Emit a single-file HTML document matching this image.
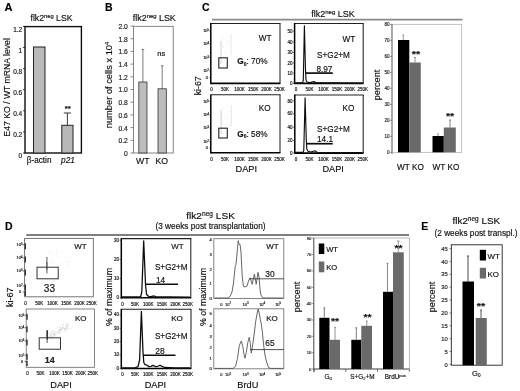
<!DOCTYPE html>
<html><head><meta charset="utf-8"><title>Figure</title>
<style>
html,body{margin:0;padding:0;background:#fff;}
body{width:520px;height:391px;overflow:hidden;}
svg{display:block;font-family:"Liberation Sans",sans-serif;}
svg text{font-family:"Liberation Sans",sans-serif;stroke:#111;stroke-width:0.16px;}
</style></head><body>
<svg width="520" height="391" viewBox="0 0 520 391">
<defs><filter id="soft" x="0" y="0" width="100%" height="100%" filterUnits="userSpaceOnUse"><feGaussianBlur stdDeviation="0.4"/></filter></defs>
<rect x="0" y="0" width="520" height="391" fill="#fff"/>
<g filter="url(#soft)">
<rect x="0" y="0" width="520" height="391" fill="#fff"/>
<text x="4.6" y="11.2" font-size="11" text-anchor="start" font-weight="bold" font-style="normal" fill="#000" >A</text>
<text x="51.5" y="21" font-size="8.8" text-anchor="middle" font-weight="normal" font-style="normal" fill="#111"  textLength="42" lengthAdjust="spacingAndGlyphs">flk2<tspan font-size="5.808000000000001" dy="-2.9040000000000004">neg</tspan><tspan dy="2.9040000000000004"> LSK</tspan></text>
<rect x="25" y="26.6" width="56.400000000000006" height="126.4" fill="none" stroke="#111" stroke-width="1.4"/>
<line x1="23" y1="153.0" x2="25" y2="153.0" stroke="#111" stroke-width="0.8"/>
<text x="22.2" y="158.2" font-size="6.5" text-anchor="end" font-weight="normal" font-style="normal" fill="#222" >0</text>
<line x1="23" y1="131.9" x2="25" y2="131.9" stroke="#111" stroke-width="0.8"/>
<text x="22.2" y="137.1" font-size="6.5" text-anchor="end" font-weight="normal" font-style="normal" fill="#222" >0.2</text>
<line x1="23" y1="110.8" x2="25" y2="110.8" stroke="#111" stroke-width="0.8"/>
<text x="22.2" y="116.0" font-size="6.5" text-anchor="end" font-weight="normal" font-style="normal" fill="#222" >0.4</text>
<line x1="23" y1="89.69999999999999" x2="25" y2="89.69999999999999" stroke="#111" stroke-width="0.8"/>
<text x="22.2" y="94.89999999999999" font-size="6.5" text-anchor="end" font-weight="normal" font-style="normal" fill="#222" >0.6</text>
<line x1="23" y1="68.6" x2="25" y2="68.6" stroke="#111" stroke-width="0.8"/>
<text x="22.2" y="73.8" font-size="6.5" text-anchor="end" font-weight="normal" font-style="normal" fill="#222" >0.8</text>
<line x1="23" y1="47.5" x2="25" y2="47.5" stroke="#111" stroke-width="0.8"/>
<text x="22.2" y="52.7" font-size="6.5" text-anchor="end" font-weight="normal" font-style="normal" fill="#222" >1</text>
<line x1="23" y1="26.39999999999999" x2="25" y2="26.39999999999999" stroke="#111" stroke-width="0.8"/>
<text x="22.2" y="31.59999999999999" font-size="6.5" text-anchor="end" font-weight="normal" font-style="normal" fill="#222" >1.2</text>
<rect x="33.5" y="47" width="11.5" height="106" fill="#b9b9b9" stroke="#222" stroke-width="1"/>
<rect x="61.8" y="125.3" width="11.200000000000003" height="27.700000000000003" fill="#b9b9b9" stroke="#222" stroke-width="1"/>
<line x1="67.4" y1="125.3" x2="67.4" y2="113" stroke="#222" stroke-width="0.9"/>
<line x1="63.800000000000004" y1="113" x2="71.0" y2="113" stroke="#222" stroke-width="0.9"/>
<text x="64.8" y="111" font-size="8" text-anchor="start" font-weight="bold" font-style="normal" fill="#111"  textLength="6" lengthAdjust="spacingAndGlyphs">**</text>
<text x="39.1" y="163.3" font-size="8.2" text-anchor="middle" font-weight="normal" font-style="normal" fill="#111" >&#946;-actin</text>
<text x="68" y="163.3" font-size="8.3" text-anchor="middle" font-weight="normal" font-style="italic" fill="#111" >p21</text>
<text transform="translate(9.7,87.4) rotate(-90)" font-size="8.4" text-anchor="middle" fill="#111" textLength="98.5" lengthAdjust="spacingAndGlyphs">E47 KO / WT mRNA level</text>
<text x="105" y="11.3" font-size="10.5" text-anchor="start" font-weight="bold" font-style="normal" fill="#000" >B</text>
<text x="154.3" y="21" font-size="8.8" text-anchor="middle" font-weight="normal" font-style="normal" fill="#111"  textLength="43" lengthAdjust="spacingAndGlyphs">flk2<tspan font-size="5.808000000000001" dy="-2.9040000000000004">neg</tspan><tspan dy="2.9040000000000004"> LSK</tspan></text>
<rect x="133.5" y="26.3" width="39.69999999999999" height="126.7" fill="none" stroke="#666" stroke-width="0.8"/>
<line x1="130.5" y1="153.0" x2="133" y2="153.0" stroke="#555" stroke-width="0.7"/>
<text x="127.8" y="155.9" font-size="6.7" text-anchor="end" font-weight="normal" font-style="normal" fill="#222" >0</text>
<line x1="130.5" y1="140.3" x2="133" y2="140.3" stroke="#555" stroke-width="0.7"/>
<text x="127.8" y="143.20000000000002" font-size="6.7" text-anchor="end" font-weight="normal" font-style="normal" fill="#222" >0.2</text>
<line x1="130.5" y1="127.6" x2="133" y2="127.6" stroke="#555" stroke-width="0.7"/>
<text x="127.8" y="130.5" font-size="6.7" text-anchor="end" font-weight="normal" font-style="normal" fill="#222" >0.4</text>
<line x1="130.5" y1="114.9" x2="133" y2="114.9" stroke="#555" stroke-width="0.7"/>
<text x="127.8" y="117.80000000000001" font-size="6.7" text-anchor="end" font-weight="normal" font-style="normal" fill="#222" >0.6</text>
<line x1="130.5" y1="102.2" x2="133" y2="102.2" stroke="#555" stroke-width="0.7"/>
<text x="127.8" y="105.10000000000001" font-size="6.7" text-anchor="end" font-weight="normal" font-style="normal" fill="#222" >0.8</text>
<line x1="130.5" y1="89.5" x2="133" y2="89.5" stroke="#555" stroke-width="0.7"/>
<text x="127.8" y="92.4" font-size="6.7" text-anchor="end" font-weight="normal" font-style="normal" fill="#222" >1.0</text>
<line x1="130.5" y1="76.80000000000001" x2="133" y2="76.80000000000001" stroke="#555" stroke-width="0.7"/>
<text x="127.8" y="79.70000000000002" font-size="6.7" text-anchor="end" font-weight="normal" font-style="normal" fill="#222" >1.2</text>
<line x1="130.5" y1="64.10000000000001" x2="133" y2="64.10000000000001" stroke="#555" stroke-width="0.7"/>
<text x="127.8" y="67.00000000000001" font-size="6.7" text-anchor="end" font-weight="normal" font-style="normal" fill="#222" >1.4</text>
<line x1="130.5" y1="51.400000000000006" x2="133" y2="51.400000000000006" stroke="#555" stroke-width="0.7"/>
<text x="127.8" y="54.300000000000004" font-size="6.7" text-anchor="end" font-weight="normal" font-style="normal" fill="#222" >1.6</text>
<line x1="130.5" y1="38.7" x2="133" y2="38.7" stroke="#555" stroke-width="0.7"/>
<text x="127.8" y="41.6" font-size="6.7" text-anchor="end" font-weight="normal" font-style="normal" fill="#222" >1.8</text>
<line x1="130.5" y1="26.0" x2="133" y2="26.0" stroke="#555" stroke-width="0.7"/>
<text x="127.8" y="28.9" font-size="6.7" text-anchor="end" font-weight="normal" font-style="normal" fill="#222" >2.0</text>
<rect x="138.8" y="82" width="8.199999999999989" height="71" fill="#bdbdbd" stroke="#333" stroke-width="0.8"/>
<rect x="158" y="88.8" width="8.300000000000011" height="64.2" fill="#bdbdbd" stroke="#333" stroke-width="0.8"/>
<line x1="142.9" y1="82" x2="142.9" y2="49.5" stroke="#444" stroke-width="0.7"/>
<line x1="141.6" y1="49.5" x2="144.20000000000002" y2="49.5" stroke="#444" stroke-width="0.7"/>
<line x1="162.2" y1="88.8" x2="162.2" y2="65.8" stroke="#444" stroke-width="0.7"/>
<line x1="160.89999999999998" y1="65.8" x2="163.5" y2="65.8" stroke="#444" stroke-width="0.7"/>
<text x="161.3" y="55.6" font-size="7.6" text-anchor="middle" font-weight="normal" font-style="normal" fill="#111" >ns</text>
<text x="142.8" y="164.2" font-size="8.7" text-anchor="middle" font-weight="normal" font-style="normal" fill="#111" >WT</text>
<text x="161.8" y="164.2" font-size="8.7" text-anchor="middle" font-weight="normal" font-style="normal" fill="#111" >KO</text>
<text transform="translate(112,85) rotate(-90)" font-size="9.3" text-anchor="middle" fill="#111">number of cells x 10<tspan font-size="5.8" dy="-3.2">4</tspan></text>
<text x="202" y="11.3" font-size="10.5" text-anchor="start" font-weight="bold" font-style="normal" fill="#000" >C</text>
<text x="333" y="16.7" font-size="9.1" text-anchor="middle" font-weight="normal" font-style="normal" fill="#111"  textLength="43.4" lengthAdjust="spacingAndGlyphs">flk2<tspan font-size="6.006" dy="-3.003">neg</tspan><tspan dy="3.003"> LSK</tspan></text>
<line x1="212" y1="19.6" x2="462.5" y2="19.6" stroke="#8a8a8a" stroke-width="1.8"/>
<line x1="210.8" y1="23.4" x2="280.5" y2="23.4" stroke="#222" stroke-width="1.05"/>
<line x1="280" y1="23.4" x2="280" y2="83.4" stroke="#222" stroke-width="1.05"/>
<line x1="210.8" y1="23.0" x2="210.8" y2="84.15" stroke="#000" stroke-width="1.5"/>
<line x1="210.8" y1="83.4" x2="280.4" y2="83.4" stroke="#000" stroke-width="1.6"/>
<text x="209" y="32.4" font-size="3.9" text-anchor="end" font-weight="normal" font-style="normal" fill="#111" >10<tspan font-size="2.73" dy="-1.2">5</tspan></text>
<line x1="209.3" y1="31" x2="210.7" y2="31" stroke="#111" stroke-width="0.6"/>
<text x="209" y="45.4" font-size="3.9" text-anchor="end" font-weight="normal" font-style="normal" fill="#111" >10<tspan font-size="2.73" dy="-1.2">4</tspan></text>
<line x1="209.3" y1="44" x2="210.7" y2="44" stroke="#111" stroke-width="0.6"/>
<text x="209" y="58.9" font-size="3.9" text-anchor="end" font-weight="normal" font-style="normal" fill="#111" >10<tspan font-size="2.73" dy="-1.2">3</tspan></text>
<line x1="209.3" y1="57.5" x2="210.7" y2="57.5" stroke="#111" stroke-width="0.6"/>
<text x="209" y="72.2" font-size="3.9" text-anchor="end" font-weight="normal" font-style="normal" fill="#111" >10<tspan font-size="2.73" dy="-1.2">2</tspan></text>
<line x1="209.3" y1="70.8" x2="210.7" y2="70.8" stroke="#111" stroke-width="0.6"/>
<text x="207.8" y="78.9" font-size="3.9" text-anchor="end" font-weight="normal" font-style="normal" fill="#111" >0</text>
<line x1="209.3" y1="77.5" x2="210.7" y2="77.5" stroke="#111" stroke-width="0.6"/>
<text x="211.5" y="91.0" font-size="4.5" text-anchor="middle" font-weight="normal" font-style="normal" fill="#111" >0</text>
<text x="225" y="91.0" font-size="4.5" text-anchor="middle" font-weight="normal" font-style="normal" fill="#111" >50K</text>
<text x="239.6" y="91.0" font-size="4.5" text-anchor="middle" font-weight="normal" font-style="normal" fill="#111" >100K</text>
<text x="253.3" y="91.0" font-size="4.5" text-anchor="middle" font-weight="normal" font-style="normal" fill="#111" >150K</text>
<text x="266.6" y="91.0" font-size="4.5" text-anchor="middle" font-weight="normal" font-style="normal" fill="#111" >200K</text>
<text x="279.4" y="91.0" font-size="4.5" text-anchor="middle" font-weight="normal" font-style="normal" fill="#111" >250K</text>
<line x1="221" y1="41" x2="221" y2="64" stroke="#c8c8c8" stroke-width="0.8"/>
<line x1="231" y1="35" x2="231" y2="55.5" stroke="#e2e2e2" stroke-width="0.8"/>
<rect x="224.2" y="37.3" width="0.6" height="0.6" fill="#ccc" opacity="0.5"/>
<rect x="227.5" y="35.6" width="0.6" height="0.6" fill="#ccc" opacity="0.5"/>
<rect x="226.4" y="42.0" width="0.6" height="0.6" fill="#ccc" opacity="0.5"/>
<rect x="221.6" y="45.2" width="0.6" height="0.6" fill="#ccc" opacity="0.5"/>
<rect x="221.4" y="43.5" width="0.6" height="0.6" fill="#ccc" opacity="0.5"/>
<rect x="221.7" y="36.0" width="0.6" height="0.6" fill="#ccc" opacity="0.5"/>
<rect x="225.2" y="52.2" width="0.6" height="0.6" fill="#ccc" opacity="0.5"/>
<rect x="222.2" y="38.9" width="0.6" height="0.6" fill="#ccc" opacity="0.5"/>
<rect x="227.3" y="54.8" width="0.6" height="0.6" fill="#ccc" opacity="0.5"/>
<rect x="226.8" y="42.7" width="0.6" height="0.6" fill="#ccc" opacity="0.5"/>
<rect x="230.8" y="35.0" width="0.6" height="0.6" fill="#ccc" opacity="0.5"/>
<rect x="229.6" y="40.4" width="0.6" height="0.6" fill="#ccc" opacity="0.5"/>
<rect x="222.4" y="36.6" width="0.6" height="0.6" fill="#ccc" opacity="0.5"/>
<rect x="224.1" y="52.0" width="0.6" height="0.6" fill="#ccc" opacity="0.5"/>
<rect x="222.8" y="46.8" width="0.6" height="0.6" fill="#ccc" opacity="0.5"/>
<rect x="227.4" y="42.2" width="0.6" height="0.6" fill="#ccc" opacity="0.5"/>
<rect x="226.5" y="35.4" width="0.6" height="0.6" fill="#ccc" opacity="0.5"/>
<rect x="221.6" y="38.5" width="0.6" height="0.6" fill="#ccc" opacity="0.5"/>
<rect x="227.8" y="43.4" width="0.6" height="0.6" fill="#ccc" opacity="0.5"/>
<rect x="224.1" y="46.9" width="0.6" height="0.6" fill="#ccc" opacity="0.5"/>
<rect x="225.5" y="40.6" width="0.6" height="0.6" fill="#ccc" opacity="0.5"/>
<rect x="228.9" y="49.4" width="0.6" height="0.6" fill="#ccc" opacity="0.5"/>
<rect x="223.4" y="46.6" width="0.6" height="0.6" fill="#ccc" opacity="0.5"/>
<rect x="226.3" y="53.3" width="0.6" height="0.6" fill="#ccc" opacity="0.5"/>
<rect x="228.3" y="40.3" width="0.6" height="0.6" fill="#ccc" opacity="0.5"/>
<rect x="230.8" y="36.6" width="0.6" height="0.6" fill="#ccc" opacity="0.5"/>
<rect x="225.2" y="50.7" width="0.6" height="0.6" fill="#ccc" opacity="0.5"/>
<rect x="222.5" y="44.8" width="0.6" height="0.6" fill="#ccc" opacity="0.5"/>
<rect x="221.4" y="48.7" width="0.6" height="0.6" fill="#ccc" opacity="0.5"/>
<rect x="228.6" y="46.6" width="0.6" height="0.6" fill="#ccc" opacity="0.5"/>
<rect x="218.8" y="57.8" width="8.5" height="10.200000000000003" fill="none" stroke="#222" stroke-width="1.1"/>
<text x="258.7" y="41.3" font-size="8.2" text-anchor="start" font-weight="normal" font-style="normal" fill="#111" >WT</text>
<text x="237.3" y="64.4" font-size="8.3" text-anchor="start" font-weight="normal" font-style="normal" fill="#111"  textLength="30.3" lengthAdjust="spacingAndGlyphs"><tspan font-weight="bold">G<tspan font-size="5" dy="1.5">0</tspan></tspan><tspan dy="-1.5">: 70%</tspan></text>
<text transform="translate(201.4,85.8) rotate(-90)" font-size="8.8" text-anchor="middle" fill="#111">ki-67</text>
<line x1="210.8" y1="94.8" x2="280.5" y2="94.8" stroke="#222" stroke-width="1.05"/>
<line x1="280" y1="94.8" x2="280" y2="152.8" stroke="#222" stroke-width="1.05"/>
<line x1="210.8" y1="94.39999999999999" x2="210.8" y2="153.55" stroke="#000" stroke-width="1.5"/>
<line x1="210.8" y1="152.8" x2="280.4" y2="152.8" stroke="#000" stroke-width="1.6"/>
<text x="209" y="103.2" font-size="3.9" text-anchor="end" font-weight="normal" font-style="normal" fill="#111" >10<tspan font-size="2.73" dy="-1.2">5</tspan></text>
<line x1="209.3" y1="101.8" x2="210.7" y2="101.8" stroke="#111" stroke-width="0.6"/>
<text x="209" y="116.4" font-size="3.9" text-anchor="end" font-weight="normal" font-style="normal" fill="#111" >10<tspan font-size="2.73" dy="-1.2">4</tspan></text>
<line x1="209.3" y1="115" x2="210.7" y2="115" stroke="#111" stroke-width="0.6"/>
<text x="209" y="129.4" font-size="3.9" text-anchor="end" font-weight="normal" font-style="normal" fill="#111" >10<tspan font-size="2.73" dy="-1.2">3</tspan></text>
<line x1="209.3" y1="128" x2="210.7" y2="128" stroke="#111" stroke-width="0.6"/>
<text x="209" y="143.20000000000002" font-size="3.9" text-anchor="end" font-weight="normal" font-style="normal" fill="#111" >10<tspan font-size="2.73" dy="-1.2">2</tspan></text>
<line x1="209.3" y1="141.8" x2="210.7" y2="141.8" stroke="#111" stroke-width="0.6"/>
<text x="207.8" y="149.4" font-size="3.9" text-anchor="end" font-weight="normal" font-style="normal" fill="#111" >0</text>
<line x1="209.3" y1="148" x2="210.7" y2="148" stroke="#111" stroke-width="0.6"/>
<text x="211.5" y="161.0" font-size="4.5" text-anchor="middle" font-weight="normal" font-style="normal" fill="#111" >0</text>
<text x="225" y="161.0" font-size="4.5" text-anchor="middle" font-weight="normal" font-style="normal" fill="#111" >50K</text>
<text x="239.6" y="161.0" font-size="4.5" text-anchor="middle" font-weight="normal" font-style="normal" fill="#111" >100K</text>
<text x="253.3" y="161.0" font-size="4.5" text-anchor="middle" font-weight="normal" font-style="normal" fill="#111" >150K</text>
<text x="266.6" y="161.0" font-size="4.5" text-anchor="middle" font-weight="normal" font-style="normal" fill="#111" >200K</text>
<text x="279.4" y="161.0" font-size="4.5" text-anchor="middle" font-weight="normal" font-style="normal" fill="#111" >250K</text>
<line x1="221.2" y1="110" x2="221.2" y2="134" stroke="#c8c8c8" stroke-width="0.8"/>
<line x1="231.3" y1="105" x2="231.3" y2="126" stroke="#e2e2e2" stroke-width="0.8"/>
<rect x="230.6" y="111.2" width="0.6" height="0.6" fill="#ccc" opacity="0.5"/>
<rect x="228.6" y="117.7" width="0.6" height="0.6" fill="#ccc" opacity="0.5"/>
<rect x="227.4" y="114.5" width="0.6" height="0.6" fill="#ccc" opacity="0.5"/>
<rect x="230.2" y="125.7" width="0.6" height="0.6" fill="#ccc" opacity="0.5"/>
<rect x="226.2" y="119.3" width="0.6" height="0.6" fill="#ccc" opacity="0.5"/>
<rect x="221.7" y="120.1" width="0.6" height="0.6" fill="#ccc" opacity="0.5"/>
<rect x="228.1" y="126.8" width="0.6" height="0.6" fill="#ccc" opacity="0.5"/>
<rect x="230.0" y="110.5" width="0.6" height="0.6" fill="#ccc" opacity="0.5"/>
<rect x="225.2" y="119.4" width="0.6" height="0.6" fill="#ccc" opacity="0.5"/>
<rect x="221.2" y="114.6" width="0.6" height="0.6" fill="#ccc" opacity="0.5"/>
<rect x="222.8" y="106.7" width="0.6" height="0.6" fill="#ccc" opacity="0.5"/>
<rect x="221.6" y="121.7" width="0.6" height="0.6" fill="#ccc" opacity="0.5"/>
<rect x="222.4" y="109.7" width="0.6" height="0.6" fill="#ccc" opacity="0.5"/>
<rect x="225.3" y="124.0" width="0.6" height="0.6" fill="#ccc" opacity="0.5"/>
<rect x="221.9" y="114.3" width="0.6" height="0.6" fill="#ccc" opacity="0.5"/>
<rect x="227.0" y="124.3" width="0.6" height="0.6" fill="#ccc" opacity="0.5"/>
<rect x="230.0" y="123.9" width="0.6" height="0.6" fill="#ccc" opacity="0.5"/>
<rect x="224.1" y="113.6" width="0.6" height="0.6" fill="#ccc" opacity="0.5"/>
<rect x="224.9" y="124.3" width="0.6" height="0.6" fill="#ccc" opacity="0.5"/>
<rect x="231.5" y="107.5" width="0.6" height="0.6" fill="#ccc" opacity="0.5"/>
<rect x="222.9" y="109.3" width="0.6" height="0.6" fill="#ccc" opacity="0.5"/>
<rect x="223.6" y="115.2" width="0.6" height="0.6" fill="#ccc" opacity="0.5"/>
<rect x="227.5" y="110.0" width="0.6" height="0.6" fill="#ccc" opacity="0.5"/>
<rect x="221.0" y="113.6" width="0.6" height="0.6" fill="#ccc" opacity="0.5"/>
<rect x="225.1" y="117.0" width="0.6" height="0.6" fill="#ccc" opacity="0.5"/>
<rect x="231.5" y="119.9" width="0.6" height="0.6" fill="#ccc" opacity="0.5"/>
<rect x="226.7" y="118.2" width="0.6" height="0.6" fill="#ccc" opacity="0.5"/>
<rect x="228.4" y="105.2" width="0.6" height="0.6" fill="#ccc" opacity="0.5"/>
<rect x="230.9" y="121.9" width="0.6" height="0.6" fill="#ccc" opacity="0.5"/>
<rect x="230.6" y="122.4" width="0.6" height="0.6" fill="#ccc" opacity="0.5"/>
<rect x="218.8" y="128.2" width="8.5" height="9.800000000000011" fill="none" stroke="#222" stroke-width="1.1"/>
<text x="258.7" y="111.2" font-size="8.2" text-anchor="start" font-weight="normal" font-style="normal" fill="#111" >KO</text>
<text x="237.3" y="136.9" font-size="8.3" text-anchor="start" font-weight="normal" font-style="normal" fill="#111"  textLength="30.3" lengthAdjust="spacingAndGlyphs"><tspan font-weight="bold">G<tspan font-size="5" dy="1.5">0</tspan></tspan><tspan dy="-1.5">: 58%</tspan></text>
<text x="246.3" y="171.8" font-size="9.2" text-anchor="middle" font-weight="normal" font-style="normal" fill="#111" >DAPI</text>
<line x1="294.6" y1="23.4" x2="363.7" y2="23.4" stroke="#222" stroke-width="1.05"/>
<line x1="363.2" y1="23.4" x2="363.2" y2="83.4" stroke="#222" stroke-width="1.05"/>
<line x1="294.6" y1="23.0" x2="294.6" y2="84.15" stroke="#000" stroke-width="1.5"/>
<line x1="294.6" y1="83.4" x2="363.59999999999997" y2="83.4" stroke="#000" stroke-width="1.6"/>
<text x="292.5" y="32.6" font-size="4.5" text-anchor="end" font-weight="normal" font-style="normal" fill="#111" >50</text>
<line x1="293" y1="31" x2="294.6" y2="31" stroke="#111" stroke-width="0.6"/>
<text x="292.5" y="43.6" font-size="4.5" text-anchor="end" font-weight="normal" font-style="normal" fill="#111" >40</text>
<line x1="293" y1="42" x2="294.6" y2="42" stroke="#111" stroke-width="0.6"/>
<text x="292.5" y="54.1" font-size="4.5" text-anchor="end" font-weight="normal" font-style="normal" fill="#111" >30</text>
<line x1="293" y1="52.5" x2="294.6" y2="52.5" stroke="#111" stroke-width="0.6"/>
<text x="292.5" y="64.6" font-size="4.5" text-anchor="end" font-weight="normal" font-style="normal" fill="#111" >20</text>
<line x1="293" y1="63" x2="294.6" y2="63" stroke="#111" stroke-width="0.6"/>
<text x="292.5" y="74.6" font-size="4.5" text-anchor="end" font-weight="normal" font-style="normal" fill="#111" >10</text>
<line x1="293" y1="73" x2="294.6" y2="73" stroke="#111" stroke-width="0.6"/>
<text x="292.5" y="85.0" font-size="4.5" text-anchor="end" font-weight="normal" font-style="normal" fill="#111" >0</text>
<line x1="293" y1="83.4" x2="294.6" y2="83.4" stroke="#111" stroke-width="0.6"/>
<text x="296.1" y="90.7" font-size="4.5" text-anchor="middle" font-weight="normal" font-style="normal" fill="#111" >0</text>
<text x="309.6" y="90.7" font-size="4.5" text-anchor="middle" font-weight="normal" font-style="normal" fill="#111" >50K</text>
<text x="323.6" y="90.7" font-size="4.5" text-anchor="middle" font-weight="normal" font-style="normal" fill="#111" >100K</text>
<text x="337" y="90.7" font-size="4.5" text-anchor="middle" font-weight="normal" font-style="normal" fill="#111" >150K</text>
<text x="349.8" y="90.7" font-size="4.5" text-anchor="middle" font-weight="normal" font-style="normal" fill="#111" >200K</text>
<text x="362.7" y="90.7" font-size="4.5" text-anchor="middle" font-weight="normal" font-style="normal" fill="#111" >250K</text>
<path d="M295.5 82.8 L302.6 82.8 L303.3 80 L304.4 25.8 L305.5 70 L306 80 L307 82 L310 82.6 L314 81.6 L315.5 82.6 L330 82.9 L362 83" stroke="#111" stroke-width="1.15" fill="none" stroke-linejoin="round"/>
<line x1="305.6" y1="73.1" x2="332.8" y2="73.1" stroke="#111" stroke-width="1.7"/>
<text x="324.4" y="71.9" font-size="8.2" text-anchor="middle" font-weight="normal" font-style="normal" fill="#111" >8.97</text>
<text x="333.5" y="58" font-size="8.2" text-anchor="middle" font-weight="normal" font-style="normal" fill="#111" >S+G2+M</text>
<text x="342.5" y="41.6" font-size="8.2" text-anchor="start" font-weight="normal" font-style="normal" fill="#111" >WT</text>
<line x1="294.8" y1="94.9" x2="363.7" y2="94.9" stroke="#222" stroke-width="1.05"/>
<line x1="363.2" y1="94.9" x2="363.2" y2="153.1" stroke="#222" stroke-width="1.05"/>
<line x1="294.8" y1="94.5" x2="294.8" y2="153.85" stroke="#000" stroke-width="1.5"/>
<line x1="294.8" y1="153.1" x2="363.59999999999997" y2="153.1" stroke="#000" stroke-width="1.6"/>
<text x="292.5" y="102.6" font-size="4.5" text-anchor="end" font-weight="normal" font-style="normal" fill="#111" >80</text>
<line x1="293" y1="101" x2="294.6" y2="101" stroke="#111" stroke-width="0.6"/>
<text x="292.5" y="115.39999999999999" font-size="4.5" text-anchor="end" font-weight="normal" font-style="normal" fill="#111" >60</text>
<line x1="293" y1="113.8" x2="294.6" y2="113.8" stroke="#111" stroke-width="0.6"/>
<text x="292.5" y="128.8" font-size="4.5" text-anchor="end" font-weight="normal" font-style="normal" fill="#111" >40</text>
<line x1="293" y1="127.2" x2="294.6" y2="127.2" stroke="#111" stroke-width="0.6"/>
<text x="292.5" y="142.1" font-size="4.5" text-anchor="end" font-weight="normal" font-style="normal" fill="#111" >20</text>
<line x1="293" y1="140.5" x2="294.6" y2="140.5" stroke="#111" stroke-width="0.6"/>
<text x="292.5" y="154.6" font-size="4.5" text-anchor="end" font-weight="normal" font-style="normal" fill="#111" >0</text>
<line x1="293" y1="153" x2="294.6" y2="153" stroke="#111" stroke-width="0.6"/>
<text x="296.1" y="161.0" font-size="4.5" text-anchor="middle" font-weight="normal" font-style="normal" fill="#111" >0</text>
<text x="309.6" y="161.0" font-size="4.5" text-anchor="middle" font-weight="normal" font-style="normal" fill="#111" >50K</text>
<text x="323.6" y="161.0" font-size="4.5" text-anchor="middle" font-weight="normal" font-style="normal" fill="#111" >100K</text>
<text x="337" y="161.0" font-size="4.5" text-anchor="middle" font-weight="normal" font-style="normal" fill="#111" >150K</text>
<text x="349.8" y="161.0" font-size="4.5" text-anchor="middle" font-weight="normal" font-style="normal" fill="#111" >200K</text>
<text x="362.7" y="161.0" font-size="4.5" text-anchor="middle" font-weight="normal" font-style="normal" fill="#111" >250K</text>
<path d="M295.5 152.4 L303 152.4 L303.8 150 L305.1 97.8 L306.3 140 L306.8 149 L308 151.3 L311 152 L315 150.8 L317 152.2 L330 152.5 L362 152.6" stroke="#111" stroke-width="1.15" fill="none" stroke-linejoin="round"/>
<line x1="306" y1="143.7" x2="332.8" y2="143.7" stroke="#111" stroke-width="1.7"/>
<text x="325" y="142.2" font-size="8.2" text-anchor="middle" font-weight="normal" font-style="normal" fill="#111" >14.1</text>
<text x="333.5" y="131.7" font-size="8.2" text-anchor="middle" font-weight="normal" font-style="normal" fill="#111" >S+G2+M</text>
<text x="342.5" y="111" font-size="8.2" text-anchor="start" font-weight="normal" font-style="normal" fill="#111" >KO</text>
<text x="333.2" y="171.8" font-size="9.2" text-anchor="middle" font-weight="normal" font-style="normal" fill="#111" >DAPI</text>
<rect x="392" y="24.3" width="69.69999999999999" height="128.0" fill="none" stroke="#aaa" stroke-width="0.7"/>
<line x1="392" y1="24.3" x2="392" y2="154" stroke="#555" stroke-width="0.8"/>
<line x1="390" y1="152.3" x2="392" y2="152.3" stroke="#555" stroke-width="0.6"/>
<text x="389.5" y="153.9" font-size="4.6" text-anchor="end" font-weight="normal" font-style="normal" fill="#333" >0</text>
<line x1="390" y1="136.3" x2="392" y2="136.3" stroke="#555" stroke-width="0.6"/>
<text x="389.5" y="137.9" font-size="4.6" text-anchor="end" font-weight="normal" font-style="normal" fill="#333" >10</text>
<line x1="390" y1="120.30000000000001" x2="392" y2="120.30000000000001" stroke="#555" stroke-width="0.6"/>
<text x="389.5" y="121.9" font-size="4.6" text-anchor="end" font-weight="normal" font-style="normal" fill="#333" >20</text>
<line x1="390" y1="104.30000000000001" x2="392" y2="104.30000000000001" stroke="#555" stroke-width="0.6"/>
<text x="389.5" y="105.9" font-size="4.6" text-anchor="end" font-weight="normal" font-style="normal" fill="#333" >30</text>
<line x1="390" y1="88.30000000000001" x2="392" y2="88.30000000000001" stroke="#555" stroke-width="0.6"/>
<text x="389.5" y="89.9" font-size="4.6" text-anchor="end" font-weight="normal" font-style="normal" fill="#333" >40</text>
<line x1="390" y1="72.30000000000001" x2="392" y2="72.30000000000001" stroke="#555" stroke-width="0.6"/>
<text x="389.5" y="73.9" font-size="4.6" text-anchor="end" font-weight="normal" font-style="normal" fill="#333" >50</text>
<line x1="390" y1="56.30000000000001" x2="392" y2="56.30000000000001" stroke="#555" stroke-width="0.6"/>
<text x="389.5" y="57.90000000000001" font-size="4.6" text-anchor="end" font-weight="normal" font-style="normal" fill="#333" >60</text>
<line x1="390" y1="40.30000000000001" x2="392" y2="40.30000000000001" stroke="#555" stroke-width="0.6"/>
<text x="389.5" y="41.90000000000001" font-size="4.6" text-anchor="end" font-weight="normal" font-style="normal" fill="#333" >70</text>
<line x1="390" y1="24.30000000000001" x2="392" y2="24.30000000000001" stroke="#555" stroke-width="0.6"/>
<text x="389.5" y="25.900000000000013" font-size="4.6" text-anchor="end" font-weight="normal" font-style="normal" fill="#333" >80</text>
<rect x="398" y="40" width="11.300000000000011" height="112.30000000000001" fill="#000" stroke="none" stroke-width="1"/>
<rect x="409.3" y="62.5" width="11.5" height="89.80000000000001" fill="#6b6b6b" stroke="none" stroke-width="1"/>
<rect x="432.5" y="136" width="11.300000000000011" height="16.30000000000001" fill="#000" stroke="none" stroke-width="1"/>
<rect x="443.8" y="127.5" width="12.0" height="24.80000000000001" fill="#6b6b6b" stroke="none" stroke-width="1"/>
<line x1="403.3" y1="40" x2="403.3" y2="35" stroke="#555" stroke-width="0.6"/>
<line x1="402.5" y1="35" x2="404.1" y2="35" stroke="#555" stroke-width="0.6"/>
<line x1="415" y1="62.5" x2="415" y2="57.5" stroke="#666" stroke-width="0.7"/>
<line x1="414.1" y1="57.5" x2="415.9" y2="57.5" stroke="#666" stroke-width="0.7"/>
<line x1="438" y1="136" x2="438" y2="133.8" stroke="#555" stroke-width="0.6"/>
<line x1="437.2" y1="133.8" x2="438.8" y2="133.8" stroke="#555" stroke-width="0.6"/>
<line x1="450" y1="127.5" x2="450" y2="120" stroke="#666" stroke-width="0.8"/>
<line x1="449.1" y1="120" x2="450.9" y2="120" stroke="#666" stroke-width="0.8"/>
<text x="411.8" y="57.3" font-size="9" text-anchor="start" font-weight="bold" font-style="normal" fill="#111"  textLength="8.4" lengthAdjust="spacingAndGlyphs">**</text>
<text x="445.9" y="119.4" font-size="9" text-anchor="start" font-weight="bold" font-style="normal" fill="#111"  textLength="8.2" lengthAdjust="spacingAndGlyphs">**</text>
<text x="397" y="169.8" font-size="8.3" text-anchor="start" font-weight="normal" font-style="normal" fill="#111" textLength="26.8" lengthAdjust="spacingAndGlyphs">WT KO</text>
<text x="432.5" y="169.8" font-size="8.3" text-anchor="start" font-weight="normal" font-style="normal" fill="#111" textLength="26.8" lengthAdjust="spacingAndGlyphs">WT KO</text>
<text transform="translate(379.8,85) rotate(-90)" font-size="9.2" text-anchor="middle" fill="#111">percent</text>
<text x="5" y="229.5" font-size="10.5" text-anchor="start" font-weight="bold" font-style="normal" fill="#000" >D</text>
<text x="210.6" y="218.8" font-size="9.5" text-anchor="middle" font-weight="normal" font-style="normal" fill="#111"  textLength="48.6" lengthAdjust="spacingAndGlyphs">flk2<tspan font-size="6.2700000000000005" dy="-3.1350000000000002">neg</tspan><tspan dy="3.1350000000000002"> LSK</tspan></text>
<text x="210.5" y="229" font-size="8.25" text-anchor="middle" font-weight="normal" font-style="normal" fill="#111"  textLength="110" lengthAdjust="spacingAndGlyphs">(3 weeks post transplantation)</text>
<line x1="26.3" y1="234.9" x2="409" y2="234.9" stroke="#555" stroke-width="1.5"/>
<rect x="24.6" y="238.4" width="68.69999999999999" height="58.400000000000006" fill="none" stroke="#666" stroke-width="0.9"/>
<text x="22.4" y="246.20000000000002" font-size="3.9" text-anchor="end" font-weight="normal" font-style="normal" fill="#111" >10<tspan font-size="2.73" dy="-1.2">5</tspan></text>
<line x1="22.7" y1="244.8" x2="24.099999999999998" y2="244.8" stroke="#111" stroke-width="0.6"/>
<text x="22.4" y="259.4" font-size="3.9" text-anchor="end" font-weight="normal" font-style="normal" fill="#111" >10<tspan font-size="2.73" dy="-1.2">4</tspan></text>
<line x1="22.7" y1="258" x2="24.099999999999998" y2="258" stroke="#111" stroke-width="0.6"/>
<text x="22.4" y="272.4" font-size="3.9" text-anchor="end" font-weight="normal" font-style="normal" fill="#111" >10<tspan font-size="2.73" dy="-1.2">3</tspan></text>
<line x1="22.7" y1="271" x2="24.099999999999998" y2="271" stroke="#111" stroke-width="0.6"/>
<text x="22.4" y="287.4" font-size="3.9" text-anchor="end" font-weight="normal" font-style="normal" fill="#111" >10<tspan font-size="2.73" dy="-1.2">2</tspan></text>
<line x1="22.7" y1="286" x2="24.099999999999998" y2="286" stroke="#111" stroke-width="0.6"/>
<text x="21.2" y="293.4" font-size="3.9" text-anchor="end" font-weight="normal" font-style="normal" fill="#111" >0</text>
<line x1="22.7" y1="292" x2="24.099999999999998" y2="292" stroke="#111" stroke-width="0.6"/>
<text x="25.6" y="305.3" font-size="4.5" text-anchor="middle" font-weight="normal" font-style="normal" fill="#111" >0</text>
<text x="39.2" y="305.3" font-size="4.5" text-anchor="middle" font-weight="normal" font-style="normal" fill="#111" >50K</text>
<text x="52.6" y="305.3" font-size="4.5" text-anchor="middle" font-weight="normal" font-style="normal" fill="#111" >100K</text>
<text x="66.3" y="305.3" font-size="4.5" text-anchor="middle" font-weight="normal" font-style="normal" fill="#111" >150K</text>
<text x="79.5" y="305.3" font-size="4.5" text-anchor="middle" font-weight="normal" font-style="normal" fill="#111" >200K</text>
<text x="91.5" y="305.3" font-size="4.5" text-anchor="middle" font-weight="normal" font-style="normal" fill="#111" >250K</text>
<line x1="46.9" y1="257" x2="46.9" y2="273.5" stroke="#777" stroke-width="1.2"/>
<line x1="46.9" y1="262" x2="46.9" y2="270" stroke="#555" stroke-width="1.0"/>
<rect x="57.0" y="256.0" width="0.8" height="0.8" fill="#ddd" opacity="0.6"/>
<rect x="50.4" y="259.5" width="0.8" height="0.8" fill="#ddd" opacity="0.6"/>
<rect x="49.4" y="251.0" width="0.8" height="0.8" fill="#ddd" opacity="0.6"/>
<rect x="52.8" y="252.4" width="0.8" height="0.8" fill="#ddd" opacity="0.6"/>
<rect x="55.8" y="250.8" width="0.8" height="0.8" fill="#ddd" opacity="0.6"/>
<rect x="48.0" y="252.3" width="0.8" height="0.8" fill="#ddd" opacity="0.6"/>
<rect x="50.3" y="255.5" width="0.8" height="0.8" fill="#ddd" opacity="0.6"/>
<rect x="48.6" y="263.1" width="0.8" height="0.8" fill="#ddd" opacity="0.6"/>
<rect x="62.1" y="252.2" width="0.8" height="0.8" fill="#ddd" opacity="0.6"/>
<rect x="53.8" y="255.2" width="0.8" height="0.8" fill="#ddd" opacity="0.6"/>
<rect x="56.4" y="251.8" width="0.8" height="0.8" fill="#ddd" opacity="0.6"/>
<rect x="67.5" y="264.9" width="0.8" height="0.8" fill="#ddd" opacity="0.6"/>
<rect x="58.7" y="257.3" width="0.8" height="0.8" fill="#ddd" opacity="0.6"/>
<rect x="50.0" y="251.5" width="0.8" height="0.8" fill="#ddd" opacity="0.6"/>
<rect x="55.9" y="254.0" width="0.8" height="0.8" fill="#ddd" opacity="0.6"/>
<rect x="67.1" y="252.4" width="0.8" height="0.8" fill="#ddd" opacity="0.6"/>
<rect x="48.5" y="264.3" width="0.8" height="0.8" fill="#ddd" opacity="0.6"/>
<rect x="60.1" y="252.2" width="0.8" height="0.8" fill="#ddd" opacity="0.6"/>
<rect x="60.5" y="250.4" width="0.8" height="0.8" fill="#ddd" opacity="0.6"/>
<rect x="60.1" y="264.7" width="0.8" height="0.8" fill="#ddd" opacity="0.6"/>
<rect x="67.9" y="260.4" width="0.8" height="0.8" fill="#ddd" opacity="0.6"/>
<rect x="54.0" y="255.5" width="0.8" height="0.8" fill="#ddd" opacity="0.6"/>
<rect x="51.8" y="261.6" width="0.8" height="0.8" fill="#ddd" opacity="0.6"/>
<rect x="60.2" y="261.7" width="0.8" height="0.8" fill="#ddd" opacity="0.6"/>
<rect x="55.6" y="253.3" width="0.8" height="0.8" fill="#ddd" opacity="0.6"/>
<rect x="66.7" y="264.8" width="0.8" height="0.8" fill="#ddd" opacity="0.6"/>
<rect x="67.6" y="262.1" width="0.8" height="0.8" fill="#ddd" opacity="0.6"/>
<rect x="66.8" y="261.1" width="0.8" height="0.8" fill="#ddd" opacity="0.6"/>
<rect x="53.2" y="257.8" width="0.8" height="0.8" fill="#ddd" opacity="0.6"/>
<rect x="56.2" y="250.4" width="0.8" height="0.8" fill="#ddd" opacity="0.6"/>
<rect x="48.6" y="254.2" width="0.8" height="0.8" fill="#ddd" opacity="0.6"/>
<rect x="54.0" y="260.4" width="0.8" height="0.8" fill="#ddd" opacity="0.6"/>
<rect x="70.0" y="256.7" width="0.8" height="0.8" fill="#ddd" opacity="0.6"/>
<rect x="69.6" y="264.8" width="0.8" height="0.8" fill="#ddd" opacity="0.6"/>
<rect x="70.0" y="255.5" width="0.8" height="0.8" fill="#ddd" opacity="0.6"/>
<rect x="53.1" y="253.4" width="0.8" height="0.8" fill="#ddd" opacity="0.6"/>
<rect x="52.5" y="253.1" width="0.8" height="0.8" fill="#ddd" opacity="0.6"/>
<rect x="62.4" y="263.5" width="0.8" height="0.8" fill="#ddd" opacity="0.6"/>
<rect x="67.3" y="257.2" width="0.8" height="0.8" fill="#ddd" opacity="0.6"/>
<rect x="63.0" y="262.0" width="0.8" height="0.8" fill="#ddd" opacity="0.6"/>
<rect x="49.9" y="259.9" width="0.8" height="0.8" fill="#ddd" opacity="0.6"/>
<rect x="68.9" y="261.7" width="0.8" height="0.8" fill="#ddd" opacity="0.6"/>
<rect x="65.3" y="257.2" width="0.8" height="0.8" fill="#ddd" opacity="0.6"/>
<rect x="52.1" y="261.8" width="0.8" height="0.8" fill="#ddd" opacity="0.6"/>
<rect x="55.6" y="262.0" width="0.8" height="0.8" fill="#ddd" opacity="0.6"/>
<rect x="37" y="267.2" width="21.200000000000003" height="11.600000000000023" fill="none" stroke="#333" stroke-width="1"/>
<text x="49.4" y="292.4" font-size="10" text-anchor="middle" font-weight="normal" font-style="normal" fill="#111" >33</text>
<text x="74.2" y="249.3" font-size="8" text-anchor="start" font-weight="normal" font-style="normal" fill="#111" >WT</text>
<text transform="translate(12.5,297.2) rotate(-90)" font-size="9" text-anchor="middle" fill="#111">ki-67</text>
<line x1="25.3" y1="243.3" x2="25.3" y2="249.3" stroke="#222" stroke-width="1.3"/>
<line x1="25.3" y1="256.5" x2="25.3" y2="262.5" stroke="#222" stroke-width="1.3"/>
<line x1="25.3" y1="269.5" x2="25.3" y2="275.5" stroke="#222" stroke-width="1.3"/>
<line x1="25.3" y1="284.5" x2="25.3" y2="290.5" stroke="#222" stroke-width="1.3"/>
<line x1="25.3" y1="291" x2="25.3" y2="296" stroke="#222" stroke-width="1.3"/>
<rect x="26.2" y="309" width="68.3" height="58.30000000000001" fill="none" stroke="#666" stroke-width="0.8"/>
<text x="24.3" y="316.7" font-size="3.9" text-anchor="end" font-weight="normal" font-style="normal" fill="#111" >10<tspan font-size="2.73" dy="-1.2">5</tspan></text>
<line x1="24.6" y1="315.3" x2="26.0" y2="315.3" stroke="#111" stroke-width="0.6"/>
<text x="24.3" y="329.2" font-size="3.9" text-anchor="end" font-weight="normal" font-style="normal" fill="#111" >10<tspan font-size="2.73" dy="-1.2">4</tspan></text>
<line x1="24.6" y1="327.8" x2="26.0" y2="327.8" stroke="#111" stroke-width="0.6"/>
<text x="24.3" y="342.4" font-size="3.9" text-anchor="end" font-weight="normal" font-style="normal" fill="#111" >10<tspan font-size="2.73" dy="-1.2">3</tspan></text>
<line x1="24.6" y1="341" x2="26.0" y2="341" stroke="#111" stroke-width="0.6"/>
<text x="24.3" y="356.7" font-size="3.9" text-anchor="end" font-weight="normal" font-style="normal" fill="#111" >10<tspan font-size="2.73" dy="-1.2">2</tspan></text>
<line x1="24.6" y1="355.3" x2="26.0" y2="355.3" stroke="#111" stroke-width="0.6"/>
<text x="23.1" y="362.9" font-size="3.9" text-anchor="end" font-weight="normal" font-style="normal" fill="#111" >0</text>
<line x1="24.6" y1="361.5" x2="26.0" y2="361.5" stroke="#111" stroke-width="0.6"/>
<text x="27.5" y="375.2" font-size="4.5" text-anchor="middle" font-weight="normal" font-style="normal" fill="#111" >0</text>
<text x="40.5" y="375.2" font-size="4.5" text-anchor="middle" font-weight="normal" font-style="normal" fill="#111" >50K</text>
<text x="54.5" y="375.2" font-size="4.5" text-anchor="middle" font-weight="normal" font-style="normal" fill="#111" >100K</text>
<text x="67.5" y="375.2" font-size="4.5" text-anchor="middle" font-weight="normal" font-style="normal" fill="#111" >150K</text>
<text x="80.8" y="375.2" font-size="4.5" text-anchor="middle" font-weight="normal" font-style="normal" fill="#111" >200K</text>
<text x="92.8" y="375.2" font-size="4.5" text-anchor="middle" font-weight="normal" font-style="normal" fill="#111" >250K</text>
<line x1="47.2" y1="330" x2="47.2" y2="343" stroke="#777" stroke-width="1.2"/>
<line x1="47.2" y1="330.5" x2="47.2" y2="339.5" stroke="#222" stroke-width="1.3"/>
<rect x="67.4" y="326.7" width="0.8" height="0.8" fill="#bbb" opacity="0.6"/>
<rect x="67.8" y="324.3" width="0.8" height="0.8" fill="#bbb" opacity="0.6"/>
<rect x="52.2" y="338.5" width="0.8" height="0.8" fill="#bbb" opacity="0.6"/>
<rect x="66.3" y="330.4" width="0.8" height="0.8" fill="#bbb" opacity="0.6"/>
<rect x="68.0" y="323.5" width="0.8" height="0.8" fill="#bbb" opacity="0.6"/>
<rect x="59.7" y="330.2" width="0.8" height="0.8" fill="#bbb" opacity="0.6"/>
<rect x="67.5" y="323.1" width="0.8" height="0.8" fill="#bbb" opacity="0.6"/>
<rect x="65.4" y="327.5" width="0.8" height="0.8" fill="#bbb" opacity="0.6"/>
<rect x="65.6" y="328.5" width="0.8" height="0.8" fill="#bbb" opacity="0.6"/>
<rect x="54.2" y="335.7" width="0.8" height="0.8" fill="#bbb" opacity="0.6"/>
<rect x="52.9" y="333.7" width="0.8" height="0.8" fill="#bbb" opacity="0.6"/>
<rect x="66.3" y="327.9" width="0.8" height="0.8" fill="#bbb" opacity="0.6"/>
<rect x="61.3" y="328.3" width="0.8" height="0.8" fill="#bbb" opacity="0.6"/>
<rect x="65.8" y="325.9" width="0.8" height="0.8" fill="#bbb" opacity="0.6"/>
<rect x="60.3" y="330.5" width="0.8" height="0.8" fill="#bbb" opacity="0.6"/>
<rect x="54.0" y="334.1" width="0.8" height="0.8" fill="#bbb" opacity="0.6"/>
<rect x="49.7" y="334.7" width="0.8" height="0.8" fill="#bbb" opacity="0.6"/>
<rect x="59.0" y="332.2" width="0.8" height="0.8" fill="#bbb" opacity="0.6"/>
<rect x="59.8" y="328.9" width="0.8" height="0.8" fill="#bbb" opacity="0.6"/>
<rect x="59.8" y="331.6" width="0.8" height="0.8" fill="#bbb" opacity="0.6"/>
<rect x="62.7" y="327.4" width="0.8" height="0.8" fill="#bbb" opacity="0.6"/>
<rect x="65.1" y="326.4" width="0.8" height="0.8" fill="#bbb" opacity="0.6"/>
<rect x="59.4" y="329.2" width="0.8" height="0.8" fill="#bbb" opacity="0.6"/>
<rect x="61.1" y="329.2" width="0.8" height="0.8" fill="#bbb" opacity="0.6"/>
<rect x="59.8" y="329.5" width="0.8" height="0.8" fill="#bbb" opacity="0.6"/>
<rect x="67.3" y="325.8" width="0.8" height="0.8" fill="#bbb" opacity="0.6"/>
<rect x="61.9" y="328.4" width="0.8" height="0.8" fill="#bbb" opacity="0.6"/>
<rect x="51.8" y="336.1" width="0.8" height="0.8" fill="#bbb" opacity="0.6"/>
<rect x="49.6" y="336.1" width="0.8" height="0.8" fill="#bbb" opacity="0.6"/>
<rect x="62.6" y="324.1" width="0.8" height="0.8" fill="#bbb" opacity="0.6"/>
<rect x="50.9" y="331.1" width="0.8" height="0.8" fill="#bbb" opacity="0.6"/>
<rect x="53.3" y="330.6" width="0.8" height="0.8" fill="#bbb" opacity="0.6"/>
<rect x="53.8" y="332.9" width="0.8" height="0.8" fill="#bbb" opacity="0.6"/>
<rect x="60.5" y="330.4" width="0.8" height="0.8" fill="#bbb" opacity="0.6"/>
<rect x="50.1" y="335.3" width="0.8" height="0.8" fill="#bbb" opacity="0.6"/>
<rect x="55.5" y="334.1" width="0.8" height="0.8" fill="#bbb" opacity="0.6"/>
<rect x="64.7" y="328.4" width="0.8" height="0.8" fill="#bbb" opacity="0.6"/>
<rect x="58.3" y="331.4" width="0.8" height="0.8" fill="#bbb" opacity="0.6"/>
<rect x="60.7" y="329.1" width="0.8" height="0.8" fill="#bbb" opacity="0.6"/>
<rect x="69.5" y="319.5" width="0.8" height="0.8" fill="#bbb" opacity="0.6"/>
<rect x="50.2" y="335.5" width="0.8" height="0.8" fill="#bbb" opacity="0.6"/>
<rect x="64.3" y="328.6" width="0.8" height="0.8" fill="#bbb" opacity="0.6"/>
<rect x="58.8" y="329.2" width="0.8" height="0.8" fill="#bbb" opacity="0.6"/>
<rect x="55.0" y="337.1" width="0.8" height="0.8" fill="#bbb" opacity="0.6"/>
<rect x="59.8" y="328.8" width="0.8" height="0.8" fill="#bbb" opacity="0.6"/>
<rect x="48.7" y="333.2" width="0.8" height="0.8" fill="#bbb" opacity="0.6"/>
<rect x="51.1" y="334.0" width="0.8" height="0.8" fill="#bbb" opacity="0.6"/>
<rect x="66.9" y="329.4" width="0.8" height="0.8" fill="#bbb" opacity="0.6"/>
<rect x="50.3" y="333.4" width="0.8" height="0.8" fill="#bbb" opacity="0.6"/>
<rect x="52.5" y="330.6" width="0.8" height="0.8" fill="#bbb" opacity="0.6"/>
<rect x="54.6" y="335.0" width="0.8" height="0.8" fill="#bbb" opacity="0.6"/>
<rect x="53.6" y="334.2" width="0.8" height="0.8" fill="#bbb" opacity="0.6"/>
<rect x="49.4" y="337.3" width="0.8" height="0.8" fill="#bbb" opacity="0.6"/>
<rect x="54.5" y="330.8" width="0.8" height="0.8" fill="#bbb" opacity="0.6"/>
<rect x="59.0" y="332.3" width="0.8" height="0.8" fill="#bbb" opacity="0.6"/>
<rect x="48.4" y="336.2" width="0.8" height="0.8" fill="#bbb" opacity="0.6"/>
<rect x="62.7" y="327.5" width="0.8" height="0.8" fill="#bbb" opacity="0.6"/>
<rect x="58.5" y="330.4" width="0.8" height="0.8" fill="#bbb" opacity="0.6"/>
<rect x="63.9" y="328.1" width="0.8" height="0.8" fill="#bbb" opacity="0.6"/>
<rect x="64.4" y="328.4" width="0.8" height="0.8" fill="#bbb" opacity="0.6"/>
<rect x="63.5" y="328.2" width="0.8" height="0.8" fill="#bbb" opacity="0.6"/>
<rect x="65.0" y="323.8" width="0.8" height="0.8" fill="#bbb" opacity="0.6"/>
<rect x="56.3" y="332.2" width="0.8" height="0.8" fill="#bbb" opacity="0.6"/>
<rect x="52.5" y="336.1" width="0.8" height="0.8" fill="#bbb" opacity="0.6"/>
<rect x="53.6" y="334.0" width="0.8" height="0.8" fill="#bbb" opacity="0.6"/>
<rect x="66.9" y="324.4" width="0.8" height="0.8" fill="#bbb" opacity="0.6"/>
<rect x="54.0" y="334.7" width="0.8" height="0.8" fill="#bbb" opacity="0.6"/>
<rect x="58.4" y="332.9" width="0.8" height="0.8" fill="#bbb" opacity="0.6"/>
<rect x="56.7" y="331.7" width="0.8" height="0.8" fill="#bbb" opacity="0.6"/>
<rect x="59.6" y="335.7" width="0.8" height="0.8" fill="#bbb" opacity="0.6"/>
<rect x="54.5" y="332.7" width="0.8" height="0.8" fill="#bbb" opacity="0.6"/>
<rect x="54.6" y="332.2" width="0.8" height="0.8" fill="#bbb" opacity="0.6"/>
<rect x="52.1" y="333.8" width="0.8" height="0.8" fill="#bbb" opacity="0.6"/>
<rect x="54.6" y="334.3" width="0.8" height="0.8" fill="#bbb" opacity="0.6"/>
<rect x="49.9" y="335.8" width="0.8" height="0.8" fill="#bbb" opacity="0.6"/>
<rect x="51.6" y="332.1" width="0.8" height="0.8" fill="#bbb" opacity="0.6"/>
<rect x="62.7" y="324.8" width="0.8" height="0.8" fill="#bbb" opacity="0.6"/>
<rect x="65.6" y="327.6" width="0.8" height="0.8" fill="#bbb" opacity="0.6"/>
<rect x="69.8" y="328.0" width="0.8" height="0.8" fill="#bbb" opacity="0.6"/>
<rect x="63.7" y="330.1" width="0.8" height="0.8" fill="#bbb" opacity="0.6"/>
<rect x="65.4" y="323.6" width="0.8" height="0.8" fill="#bbb" opacity="0.6"/>
<rect x="66.0" y="329.1" width="0.8" height="0.8" fill="#bbb" opacity="0.6"/>
<rect x="59.7" y="327.0" width="0.8" height="0.8" fill="#bbb" opacity="0.6"/>
<rect x="63.2" y="324.6" width="0.8" height="0.8" fill="#bbb" opacity="0.6"/>
<rect x="62.0" y="327.0" width="0.8" height="0.8" fill="#bbb" opacity="0.6"/>
<rect x="49.4" y="337.2" width="0.8" height="0.8" fill="#bbb" opacity="0.6"/>
<rect x="51.0" y="332.4" width="0.8" height="0.8" fill="#bbb" opacity="0.6"/>
<rect x="59.9" y="326.7" width="0.8" height="0.8" fill="#bbb" opacity="0.6"/>
<rect x="60.4" y="330.7" width="0.8" height="0.8" fill="#bbb" opacity="0.6"/>
<rect x="62.2" y="327.7" width="0.8" height="0.8" fill="#bbb" opacity="0.6"/>
<rect x="63.6" y="330.2" width="0.8" height="0.8" fill="#bbb" opacity="0.6"/>
<rect x="54.1" y="334.0" width="0.8" height="0.8" fill="#bbb" opacity="0.6"/>
<rect x="63.9" y="331.4" width="0.8" height="0.8" fill="#bbb" opacity="0.6"/>
<rect x="67.3" y="325.3" width="0.8" height="0.8" fill="#bbb" opacity="0.6"/>
<rect x="57.2" y="327.3" width="0.8" height="0.8" fill="#bbb" opacity="0.6"/>
<rect x="60.7" y="328.5" width="0.8" height="0.8" fill="#bbb" opacity="0.6"/>
<rect x="51.0" y="338.0" width="0.8" height="0.8" fill="#bbb" opacity="0.6"/>
<rect x="54.2" y="332.5" width="0.8" height="0.8" fill="#bbb" opacity="0.6"/>
<rect x="49.1" y="338.6" width="0.8" height="0.8" fill="#bbb" opacity="0.6"/>
<rect x="62.1" y="326.8" width="0.8" height="0.8" fill="#bbb" opacity="0.6"/>
<rect x="57.5" y="330.9" width="0.8" height="0.8" fill="#bbb" opacity="0.6"/>
<rect x="51.1" y="333.8" width="0.8" height="0.8" fill="#bbb" opacity="0.6"/>
<rect x="68.7" y="325.1" width="0.8" height="0.8" fill="#bbb" opacity="0.6"/>
<rect x="59.0" y="325.7" width="0.8" height="0.8" fill="#bbb" opacity="0.6"/>
<rect x="57.3" y="332.6" width="0.8" height="0.8" fill="#bbb" opacity="0.6"/>
<rect x="68.2" y="328.4" width="0.8" height="0.8" fill="#bbb" opacity="0.6"/>
<rect x="48.0" y="333.6" width="0.8" height="0.8" fill="#bbb" opacity="0.6"/>
<rect x="51.4" y="332.2" width="0.8" height="0.8" fill="#bbb" opacity="0.6"/>
<rect x="66.4" y="324.7" width="0.8" height="0.8" fill="#bbb" opacity="0.6"/>
<rect x="66.6" y="326.2" width="0.8" height="0.8" fill="#bbb" opacity="0.6"/>
<rect x="39.2" y="337.8" width="21.299999999999997" height="11.399999999999977" fill="none" stroke="#333" stroke-width="1"/>
<line x1="27" y1="313.8" x2="27" y2="319.8" stroke="#222" stroke-width="1.3"/>
<line x1="27" y1="326.3" x2="27" y2="332.3" stroke="#222" stroke-width="1.3"/>
<line x1="27" y1="339.5" x2="27" y2="345.5" stroke="#222" stroke-width="1.3"/>
<line x1="27" y1="353.8" x2="27" y2="359.8" stroke="#222" stroke-width="1.3"/>
<line x1="27" y1="360.7" x2="27" y2="366" stroke="#222" stroke-width="1.3"/>
<text x="49.8" y="362.8" font-size="9" text-anchor="middle" font-weight="bold" font-style="normal" fill="#222" >14</text>
<text x="75" y="321" font-size="8" text-anchor="start" font-weight="normal" font-style="normal" fill="#111" >KO</text>
<text x="61" y="387.6" font-size="9.2" text-anchor="middle" font-weight="normal" font-style="normal" fill="#111" >DAPI</text>
<line x1="121.3" y1="238.6" x2="191.3" y2="238.6" stroke="#222" stroke-width="1.05"/>
<line x1="190.8" y1="238.6" x2="190.8" y2="297.8" stroke="#222" stroke-width="1.05"/>
<line x1="121.3" y1="238.2" x2="121.3" y2="298.55" stroke="#000" stroke-width="1.5"/>
<line x1="121.3" y1="297.8" x2="191.20000000000002" y2="297.8" stroke="#000" stroke-width="1.6"/>
<text x="119" y="241.79999999999998" font-size="4.5" text-anchor="end" font-weight="normal" font-style="normal" fill="#111" >30</text>
<line x1="119.6" y1="240.2" x2="121.3" y2="240.2" stroke="#111" stroke-width="0.6"/>
<text x="119" y="261.20000000000005" font-size="4.5" text-anchor="end" font-weight="normal" font-style="normal" fill="#111" >20</text>
<line x1="119.6" y1="259.6" x2="121.3" y2="259.6" stroke="#111" stroke-width="0.6"/>
<text x="119" y="280.1" font-size="4.5" text-anchor="end" font-weight="normal" font-style="normal" fill="#111" >10</text>
<line x1="119.6" y1="278.5" x2="121.3" y2="278.5" stroke="#111" stroke-width="0.6"/>
<text x="119" y="299.40000000000003" font-size="4.5" text-anchor="end" font-weight="normal" font-style="normal" fill="#111" >0</text>
<line x1="119.6" y1="297.8" x2="121.3" y2="297.8" stroke="#111" stroke-width="0.6"/>
<text x="122.5" y="305.7" font-size="4.5" text-anchor="middle" font-weight="normal" font-style="normal" fill="#111" >0</text>
<text x="135" y="305.7" font-size="4.5" text-anchor="middle" font-weight="normal" font-style="normal" fill="#111" >50K</text>
<text x="148.3" y="305.7" font-size="4.5" text-anchor="middle" font-weight="normal" font-style="normal" fill="#111" >100K</text>
<text x="162" y="305.7" font-size="4.5" text-anchor="middle" font-weight="normal" font-style="normal" fill="#111" >150K</text>
<text x="175.5" y="305.7" font-size="4.5" text-anchor="middle" font-weight="normal" font-style="normal" fill="#111" >200K</text>
<text x="187.8" y="305.7" font-size="4.5" text-anchor="middle" font-weight="normal" font-style="normal" fill="#111" >250K</text>
<path d="M122 297 L140.6 297 L141.8 292 L143.7 241 L145.6 286 L146.6 294.5 L148.5 296.3 L151 296.6 L154 296 L156 296.7 L170 297 L190 297.2" stroke="#111" stroke-width="1.3" fill="none" stroke-linejoin="round"/>
<line x1="145" y1="284.3" x2="178" y2="284.3" stroke="#111" stroke-width="1.6"/>
<text x="160.5" y="282.8" font-size="8.2" text-anchor="middle" font-weight="normal" font-style="normal" fill="#111" >14</text>
<text x="171.3" y="270.2" font-size="8.2" text-anchor="middle" font-weight="normal" font-style="normal" fill="#111" >S+G2+M</text>
<text x="171.2" y="249.3" font-size="8" text-anchor="start" font-weight="normal" font-style="normal" fill="#111" >WT</text>
<text transform="translate(111.7,297) rotate(-90)" font-size="8.8" text-anchor="middle" fill="#111">% of maximum</text>
<line x1="121.3" y1="309.2" x2="191.5" y2="309.2" stroke="#222" stroke-width="1.05"/>
<line x1="191" y1="309.2" x2="191" y2="368.5" stroke="#222" stroke-width="1.05"/>
<line x1="121.3" y1="308.8" x2="121.3" y2="369.25" stroke="#000" stroke-width="1.5"/>
<line x1="121.3" y1="368.5" x2="191.4" y2="368.5" stroke="#000" stroke-width="1.6"/>
<text x="119" y="316.40000000000003" font-size="4.5" text-anchor="end" font-weight="normal" font-style="normal" fill="#111" >40</text>
<line x1="119.6" y1="314.8" x2="121.3" y2="314.8" stroke="#111" stroke-width="0.6"/>
<text x="119" y="329.90000000000003" font-size="4.5" text-anchor="end" font-weight="normal" font-style="normal" fill="#111" >30</text>
<line x1="119.6" y1="328.3" x2="121.3" y2="328.3" stroke="#111" stroke-width="0.6"/>
<text x="119" y="343.1" font-size="4.5" text-anchor="end" font-weight="normal" font-style="normal" fill="#111" >20</text>
<line x1="119.6" y1="341.5" x2="121.3" y2="341.5" stroke="#111" stroke-width="0.6"/>
<text x="119" y="356.40000000000003" font-size="4.5" text-anchor="end" font-weight="normal" font-style="normal" fill="#111" >10</text>
<line x1="119.6" y1="354.8" x2="121.3" y2="354.8" stroke="#111" stroke-width="0.6"/>
<text x="119" y="369.90000000000003" font-size="4.5" text-anchor="end" font-weight="normal" font-style="normal" fill="#111" >0</text>
<line x1="119.6" y1="368.3" x2="121.3" y2="368.3" stroke="#111" stroke-width="0.6"/>
<text x="122.5" y="375.7" font-size="4.5" text-anchor="middle" font-weight="normal" font-style="normal" fill="#111" >0</text>
<text x="135" y="375.7" font-size="4.5" text-anchor="middle" font-weight="normal" font-style="normal" fill="#111" >50K</text>
<text x="148.3" y="375.7" font-size="4.5" text-anchor="middle" font-weight="normal" font-style="normal" fill="#111" >100K</text>
<text x="162" y="375.7" font-size="4.5" text-anchor="middle" font-weight="normal" font-style="normal" fill="#111" >150K</text>
<text x="175.5" y="375.7" font-size="4.5" text-anchor="middle" font-weight="normal" font-style="normal" fill="#111" >200K</text>
<text x="187.8" y="375.7" font-size="4.5" text-anchor="middle" font-weight="normal" font-style="normal" fill="#111" >250K</text>
<path d="M122 367.8 L135 367.8 L138 366.6 L139.6 360 L141.4 311.5 L143 352 L143.8 362.5 L145 364.6 L147 365.2 L149 366.6 L151 366.4 L153 365.4 L155.5 366.6 L158 366.3 L160 365.2 L162 366.4 L164.5 367.5 L175 367.8 L190 367.8" stroke="#111" stroke-width="1.3" fill="none" stroke-linejoin="round"/>
<line x1="143" y1="355.3" x2="175.5" y2="355.3" stroke="#111" stroke-width="1.6"/>
<text x="160" y="353.8" font-size="8.4" text-anchor="middle" font-weight="normal" font-style="normal" fill="#111" >28</text>
<text x="171.3" y="339.4" font-size="8.2" text-anchor="middle" font-weight="normal" font-style="normal" fill="#111" >S+G2+M</text>
<text x="171.2" y="321" font-size="8" text-anchor="start" font-weight="normal" font-style="normal" fill="#111" >KO</text>
<text x="155.4" y="387.8" font-size="9.2" text-anchor="middle" font-weight="normal" font-style="normal" fill="#111" >DAPI</text>
<rect x="213.8" y="238.7" width="70.0" height="59.80000000000001" fill="none" stroke="#777" stroke-width="0.9"/>
<text x="211.8" y="241.2" font-size="4.2" text-anchor="end" font-weight="normal" font-style="normal" fill="#222" >4</text>
<text x="211.8" y="255.7" font-size="4.2" text-anchor="end" font-weight="normal" font-style="normal" fill="#222" >3</text>
<text x="211.8" y="270.8" font-size="4.2" text-anchor="end" font-weight="normal" font-style="normal" fill="#222" >2</text>
<text x="211.8" y="285.3" font-size="4.2" text-anchor="end" font-weight="normal" font-style="normal" fill="#222" >1</text>
<text x="211.8" y="300.0" font-size="4.2" text-anchor="end" font-weight="normal" font-style="normal" fill="#222" >0</text>
<text x="221.3" y="305.5" font-size="4" text-anchor="middle" font-weight="normal" font-style="normal" fill="#222" >0</text>
<text x="228" y="305.5" font-size="4" text-anchor="middle" font-weight="normal" font-style="normal" fill="#222" >10<tspan font-size="3" dy="-1.2">2</tspan></text>
<text x="245.6" y="305.5" font-size="4" text-anchor="middle" font-weight="normal" font-style="normal" fill="#222" >10<tspan font-size="3" dy="-1.2">3</tspan></text>
<text x="262.2" y="305.5" font-size="4" text-anchor="middle" font-weight="normal" font-style="normal" fill="#222" >10<tspan font-size="3" dy="-1.2">4</tspan></text>
<text x="278.2" y="305.5" font-size="4" text-anchor="middle" font-weight="normal" font-style="normal" fill="#222" >10<tspan font-size="3" dy="-1.2">5</tspan></text>
<path d="M214.5 298 L227.5 298 L230 296.5 L232 292 L233.5 283 L235.2 266 L236 264.5 L236.8 256 L238.2 240.6 L239.2 244.6 L240 244.2 L241 252 L242.2 276 L243.4 286.4 L245 287 L247 286.2 L248.5 281 L250 277.8 L251.2 281 L252.2 284.3 L253.3 279 L254.4 274 L255.3 279 L256.2 284.3 L257.2 278 L258 272.4 L259 277 L260 289 L260.8 294.7 L263 298 L283 298" stroke="#555" stroke-width="0.9" fill="none" stroke-linejoin="round"/>
<line x1="249.3" y1="278.8" x2="283.8" y2="278.8" stroke="#333" stroke-width="0.85"/>
<text x="270" y="276.6" font-size="8.4" text-anchor="middle" font-weight="normal" font-style="normal" fill="#111" >30</text>
<text x="266.2" y="249.3" font-size="8" text-anchor="start" font-weight="normal" font-style="normal" fill="#111" >WT</text>
<text transform="translate(205.5,297) rotate(-90)" font-size="8.8" text-anchor="middle" fill="#111">% of maximum</text>
<rect x="213.8" y="308.8" width="70.0" height="60.0" fill="none" stroke="#777" stroke-width="0.9"/>
<text x="211.8" y="315.3" font-size="4.2" text-anchor="end" font-weight="normal" font-style="normal" fill="#222" >5</text>
<text x="211.8" y="326.5" font-size="4.2" text-anchor="end" font-weight="normal" font-style="normal" fill="#222" >4</text>
<text x="211.8" y="337.7" font-size="4.2" text-anchor="end" font-weight="normal" font-style="normal" fill="#222" >3</text>
<text x="211.8" y="348.8" font-size="4.2" text-anchor="end" font-weight="normal" font-style="normal" fill="#222" >2</text>
<text x="211.8" y="359.9" font-size="4.2" text-anchor="end" font-weight="normal" font-style="normal" fill="#222" >1</text>
<text x="211.8" y="370.3" font-size="4.2" text-anchor="end" font-weight="normal" font-style="normal" fill="#222" >0</text>
<text x="221.3" y="375.8" font-size="4" text-anchor="middle" font-weight="normal" font-style="normal" fill="#222" >0</text>
<text x="228" y="375.8" font-size="4" text-anchor="middle" font-weight="normal" font-style="normal" fill="#222" >10<tspan font-size="3" dy="-1.2">2</tspan></text>
<text x="245.6" y="375.8" font-size="4" text-anchor="middle" font-weight="normal" font-style="normal" fill="#222" >10<tspan font-size="3" dy="-1.2">3</tspan></text>
<text x="262.2" y="375.8" font-size="4" text-anchor="middle" font-weight="normal" font-style="normal" fill="#222" >10<tspan font-size="3" dy="-1.2">4</tspan></text>
<text x="278.2" y="375.8" font-size="4" text-anchor="middle" font-weight="normal" font-style="normal" fill="#222" >10<tspan font-size="3" dy="-1.2">5</tspan></text>
<path d="M214.5 368.4 L233 368.4 L235.5 366.4 L237.5 358.4 L239.3 345.4 L241.3 341 L242.8 346.4 L244 354.4 L245 358.2 L246.3 352.4 L247.8 342.4 L249.3 337.2 L250.3 343.4 L251.3 353 L252.3 347.4 L254.2 334 L255.6 322 L257 314 L258.2 309 L259.4 314 L260.4 320 L261.3 324 L262.3 331.5 L263.5 344 L264.8 354 L266.3 361 L268.6 367.8 L271 368.4 L283 368.4" stroke="#555" stroke-width="0.9" fill="none" stroke-linejoin="round"/>
<line x1="250" y1="349.6" x2="283.8" y2="349.6" stroke="#333" stroke-width="0.85"/>
<text x="270" y="346.4" font-size="8.4" text-anchor="middle" font-weight="normal" font-style="normal" fill="#111" >65</text>
<text x="266.2" y="321" font-size="8" text-anchor="start" font-weight="normal" font-style="normal" fill="#111" >KO</text>
<text x="247.8" y="387.6" font-size="9.2" text-anchor="middle" font-weight="normal" font-style="normal" fill="#111" >BrdU</text>
<rect x="313.8" y="238" width="95.5" height="131" fill="none" stroke="#999" stroke-width="0.7"/>
<line x1="313.8" y1="238" x2="313.8" y2="372" stroke="#444" stroke-width="0.8"/>
<line x1="313.8" y1="369" x2="409.3" y2="369" stroke="#444" stroke-width="0.8"/>
<line x1="311.8" y1="369.0" x2="313.8" y2="369.0" stroke="#555" stroke-width="0.6"/>
<text x="311.3" y="370.5" font-size="4.2" text-anchor="end" font-weight="normal" font-style="normal" fill="#333" >0</text>
<line x1="311.8" y1="352.65" x2="313.8" y2="352.65" stroke="#555" stroke-width="0.6"/>
<text x="311.3" y="354.15" font-size="4.2" text-anchor="end" font-weight="normal" font-style="normal" fill="#333" >10</text>
<line x1="311.8" y1="336.3" x2="313.8" y2="336.3" stroke="#555" stroke-width="0.6"/>
<text x="311.3" y="337.8" font-size="4.2" text-anchor="end" font-weight="normal" font-style="normal" fill="#333" >20</text>
<line x1="311.8" y1="319.95" x2="313.8" y2="319.95" stroke="#555" stroke-width="0.6"/>
<text x="311.3" y="321.45" font-size="4.2" text-anchor="end" font-weight="normal" font-style="normal" fill="#333" >30</text>
<line x1="311.8" y1="303.6" x2="313.8" y2="303.6" stroke="#555" stroke-width="0.6"/>
<text x="311.3" y="305.1" font-size="4.2" text-anchor="end" font-weight="normal" font-style="normal" fill="#333" >40</text>
<line x1="311.8" y1="287.25" x2="313.8" y2="287.25" stroke="#555" stroke-width="0.6"/>
<text x="311.3" y="288.75" font-size="4.2" text-anchor="end" font-weight="normal" font-style="normal" fill="#333" >50</text>
<line x1="311.8" y1="270.9" x2="313.8" y2="270.9" stroke="#555" stroke-width="0.6"/>
<text x="311.3" y="272.4" font-size="4.2" text-anchor="end" font-weight="normal" font-style="normal" fill="#333" >60</text>
<line x1="311.8" y1="254.54999999999998" x2="313.8" y2="254.54999999999998" stroke="#555" stroke-width="0.6"/>
<text x="311.3" y="256.04999999999995" font-size="4.2" text-anchor="end" font-weight="normal" font-style="normal" fill="#333" >70</text>
<line x1="311.8" y1="238.2" x2="313.8" y2="238.2" stroke="#555" stroke-width="0.6"/>
<text x="311.3" y="239.7" font-size="4.2" text-anchor="end" font-weight="normal" font-style="normal" fill="#333" >80</text>
<line x1="314.2" y1="369" x2="314.2" y2="372" stroke="#444" stroke-width="0.7"/>
<line x1="345.8" y1="369" x2="345.8" y2="372" stroke="#444" stroke-width="0.7"/>
<line x1="377.5" y1="369" x2="377.5" y2="372" stroke="#444" stroke-width="0.7"/>
<line x1="409.3" y1="369" x2="409.3" y2="372" stroke="#444" stroke-width="0.7"/>
<rect x="318.8" y="243.5" width="5.5" height="10.5" fill="#000" stroke="none" stroke-width="1"/>
<text x="326.2" y="251.6" font-size="7.6" text-anchor="start" font-weight="normal" font-style="normal" fill="#111" >WT</text>
<rect x="318.8" y="261.5" width="5.5" height="10.800000000000011" fill="#6b6b6b" stroke="none" stroke-width="1"/>
<text x="326.2" y="270.4" font-size="7.6" text-anchor="start" font-weight="normal" font-style="normal" fill="#111" >KO</text>
<rect x="319.3" y="317.8" width="10.199999999999989" height="51.19999999999999" fill="#000" stroke="none" stroke-width="1"/>
<rect x="329.5" y="339.8" width="10.5" height="29.19999999999999" fill="#6b6b6b" stroke="none" stroke-width="1"/>
<rect x="351.3" y="339.8" width="10.0" height="29.19999999999999" fill="#000" stroke="none" stroke-width="1"/>
<rect x="361.3" y="325.8" width="10.699999999999989" height="43.19999999999999" fill="#6b6b6b" stroke="none" stroke-width="1"/>
<rect x="383" y="291.8" width="10" height="77.19999999999999" fill="#000" stroke="none" stroke-width="1"/>
<rect x="393" y="252.3" width="10.800000000000011" height="116.69999999999999" fill="#6b6b6b" stroke="none" stroke-width="1"/>
<line x1="324.3" y1="317.8" x2="324.3" y2="307.8" stroke="#444" stroke-width="0.7"/>
<line x1="323.40000000000003" y1="307.8" x2="325.2" y2="307.8" stroke="#444" stroke-width="0.7"/>
<line x1="335" y1="339.8" x2="335" y2="327.3" stroke="#666" stroke-width="0.7"/>
<line x1="334.1" y1="327.3" x2="335.9" y2="327.3" stroke="#666" stroke-width="0.7"/>
<line x1="356.3" y1="339.8" x2="356.3" y2="327.8" stroke="#444" stroke-width="0.7"/>
<line x1="355.40000000000003" y1="327.8" x2="357.2" y2="327.8" stroke="#444" stroke-width="0.7"/>
<line x1="366.8" y1="325.8" x2="366.8" y2="321" stroke="#666" stroke-width="0.7"/>
<line x1="365.90000000000003" y1="321" x2="367.7" y2="321" stroke="#666" stroke-width="0.7"/>
<line x1="387.5" y1="291.8" x2="387.5" y2="263.5" stroke="#555" stroke-width="0.7"/>
<line x1="386.6" y1="263.5" x2="388.4" y2="263.5" stroke="#555" stroke-width="0.7"/>
<line x1="398.3" y1="252.3" x2="398.3" y2="241" stroke="#555" stroke-width="0.6"/>
<line x1="397.1" y1="241" x2="399.5" y2="241" stroke="#555" stroke-width="0.6"/>
<text x="331.0" y="323.6" font-size="9" text-anchor="start" font-weight="bold" font-style="normal" fill="#111"  textLength="8" lengthAdjust="spacingAndGlyphs">**</text>
<text x="363.5" y="320.1" font-size="9" text-anchor="start" font-weight="bold" font-style="normal" fill="#111"  textLength="8" lengthAdjust="spacingAndGlyphs">**</text>
<text x="394.5" y="250.6" font-size="9" text-anchor="start" font-weight="bold" font-style="normal" fill="#111"  textLength="8" lengthAdjust="spacingAndGlyphs">**</text>
<text x="328.2" y="379" font-size="6.4" text-anchor="middle" font-weight="normal" font-style="normal" fill="#111" >G<tspan font-size="4" dy="1">0</tspan></text>
<text x="362.5" y="379" font-size="6.4" text-anchor="middle" font-weight="normal" font-style="normal" fill="#111" >S+G<tspan font-size="4" dy="1">2</tspan><tspan dy="-1">+M</tspan></text>
<text x="395.3" y="379" font-size="6.4" text-anchor="middle" font-weight="normal" font-style="normal" fill="#111" >BrdU<tspan font-size="4" dy="-2">pos</tspan></text>
<text transform="translate(300.4,297) rotate(-90)" font-size="9.2" text-anchor="middle" fill="#111">percent</text>
<text x="421.2" y="229.7" font-size="10.5" text-anchor="start" font-weight="bold" font-style="normal" fill="#000" >E</text>
<text x="476.3" y="224.2" font-size="9.6" text-anchor="middle" font-weight="normal" font-style="normal" fill="#111"  textLength="47.5" lengthAdjust="spacingAndGlyphs">flk2<tspan font-size="6.336" dy="-3.168">neg</tspan><tspan dy="3.168"> LSK</tspan></text>
<text x="476" y="235.7" font-size="8.3" text-anchor="middle" font-weight="normal" font-style="normal" fill="#111"  textLength="83" lengthAdjust="spacingAndGlyphs">(2 weeks post transpl.)</text>
<rect x="451.3" y="244.8" width="50.89999999999998" height="120.39999999999998" fill="none" stroke="#222" stroke-width="0.9"/>
<line x1="449.5" y1="364.4" x2="451.3" y2="364.4" stroke="#333" stroke-width="0.6"/>
<text x="447.8" y="366.5" font-size="5.8" text-anchor="end" font-weight="normal" font-style="normal" fill="#333" >0</text>
<line x1="449.5" y1="351.53" x2="451.3" y2="351.53" stroke="#333" stroke-width="0.6"/>
<text x="447.8" y="353.63" font-size="5.8" text-anchor="end" font-weight="normal" font-style="normal" fill="#333" >5</text>
<line x1="449.5" y1="338.65999999999997" x2="451.3" y2="338.65999999999997" stroke="#333" stroke-width="0.6"/>
<text x="447.8" y="340.76" font-size="5.8" text-anchor="end" font-weight="normal" font-style="normal" fill="#333" >10</text>
<line x1="449.5" y1="325.78999999999996" x2="451.3" y2="325.78999999999996" stroke="#333" stroke-width="0.6"/>
<text x="447.8" y="327.89" font-size="5.8" text-anchor="end" font-weight="normal" font-style="normal" fill="#333" >15</text>
<line x1="449.5" y1="312.91999999999996" x2="451.3" y2="312.91999999999996" stroke="#333" stroke-width="0.6"/>
<text x="447.8" y="315.02" font-size="5.8" text-anchor="end" font-weight="normal" font-style="normal" fill="#333" >20</text>
<line x1="449.5" y1="300.04999999999995" x2="451.3" y2="300.04999999999995" stroke="#333" stroke-width="0.6"/>
<text x="447.8" y="302.15" font-size="5.8" text-anchor="end" font-weight="normal" font-style="normal" fill="#333" >25</text>
<line x1="449.5" y1="287.17999999999995" x2="451.3" y2="287.17999999999995" stroke="#333" stroke-width="0.6"/>
<text x="447.8" y="289.28" font-size="5.8" text-anchor="end" font-weight="normal" font-style="normal" fill="#333" >30</text>
<line x1="449.5" y1="274.31" x2="451.3" y2="274.31" stroke="#333" stroke-width="0.6"/>
<text x="447.8" y="276.41" font-size="5.8" text-anchor="end" font-weight="normal" font-style="normal" fill="#333" >35</text>
<line x1="449.5" y1="261.44" x2="451.3" y2="261.44" stroke="#333" stroke-width="0.6"/>
<text x="447.8" y="263.54" font-size="5.8" text-anchor="end" font-weight="normal" font-style="normal" fill="#333" >40</text>
<line x1="449.5" y1="248.57" x2="451.3" y2="248.57" stroke="#333" stroke-width="0.6"/>
<text x="447.8" y="250.67" font-size="5.8" text-anchor="end" font-weight="normal" font-style="normal" fill="#333" >45</text>
<rect x="462.5" y="281.5" width="11.5" height="83.69999999999999" fill="#000" stroke="none" stroke-width="1"/>
<rect x="475.7" y="318" width="11.100000000000023" height="47.19999999999999" fill="#6b6b6b" stroke="none" stroke-width="1"/>
<line x1="468" y1="281.5" x2="468" y2="256" stroke="#333" stroke-width="0.9"/>
<line x1="467.1" y1="256" x2="468.9" y2="256" stroke="#333" stroke-width="0.9"/>
<line x1="481" y1="318" x2="481" y2="310" stroke="#444" stroke-width="0.9"/>
<line x1="480.1" y1="310" x2="481.9" y2="310" stroke="#444" stroke-width="0.9"/>
<text x="476.8" y="309" font-size="9" text-anchor="start" font-weight="bold" font-style="normal" fill="#111"  textLength="8.4" lengthAdjust="spacingAndGlyphs">**</text>
<rect x="479.8" y="249.8" width="6.199999999999989" height="10.699999999999989" fill="#000" stroke="none" stroke-width="1"/>
<text x="487.6" y="258.6" font-size="7.9" text-anchor="start" font-weight="normal" font-style="normal" fill="#111" >WT</text>
<rect x="479.8" y="267.8" width="6.199999999999989" height="10.699999999999989" fill="#6b6b6b" stroke="none" stroke-width="1"/>
<text x="487.6" y="276.6" font-size="7.9" text-anchor="start" font-weight="normal" font-style="normal" fill="#111" >KO</text>
<text x="476.3" y="376" font-size="7.6" text-anchor="middle" font-weight="normal" font-style="normal" fill="#111" >G<tspan font-size="4.6" dy="1.2">0</tspan></text>
<text transform="translate(434.6,297) rotate(-90)" font-size="9.2" text-anchor="middle" fill="#111">percent</text>
</g>
</svg>
</body></html>
